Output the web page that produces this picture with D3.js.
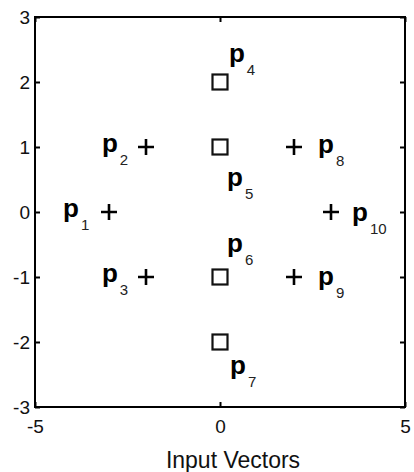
<!DOCTYPE html>
<html>
<head>
<meta charset="utf-8">
<script src="https://cdn.jsdelivr.net/npm/d3@7"></script>
<style>
  html, body { margin: 0; padding: 0; background: #fff; }
  svg { display: block; font-family: "Liberation Sans", Arial, Helvetica, sans-serif; }
</style>
</head>
<body>
<svg id="chart" width="414" height="472"></svg>
<script>
// Input vectors: two classes (plus markers and square markers)
const plusX = [-3, -2, -2, 2, 2, 3];
const plusY = [0, 1, -1, 1, -1, 0];
const plusNames = ["1", "2", "3", "8", "9", "10"];

const squareX = [0, 0, 0, 0];
const squareY = [2, 1, -1, -2];
const squareNames = ["4", "5", "6", "7"];

// Text label anchors (data units) for p_1 ... p_10
const labelNames = ["1", "2", "3", "4", "5", "6", "7", "8", "9", "10"];
const labelX = [-4.24, -3.19, -3.19, 0.24, 0.19, 0.19, 0.27, 2.65, 2.65, 3.57];
const labelY = [-0.08, 0.92, -1.08, 2.31, 0.40, -0.62, -2.49, 0.91, -1.13, -0.14];

const xTicks = [-5, 0, 5];
const yTicks = [-3, -2, -1, 0, 1, 2, 3];
const xLabel = "Input Vectors";

const svg = d3.select("#chart");
const mLeft = 35, mRight = 405, mTop = 17, mBottom = 407;

const x = d3.scaleLinear().domain([-5, 5]).range([mLeft, mRight]);
const y = d3.scaleLinear().domain([-3, 3]).range([mBottom, mTop]);

const tickLen = 5;
const fmt = d => String(d);   // plain hyphen-minus for negatives

// Axes with inward ticks on all four sides
const axB = svg.append("g").attr("transform", `translate(0,${mBottom})`)
  .call(d3.axisBottom(x).tickValues(xTicks).tickSize(-tickLen).tickPadding(13).tickFormat(fmt));
const axT = svg.append("g").attr("transform", `translate(0,${mTop})`)
  .call(d3.axisTop(x).tickValues(xTicks).tickSize(-tickLen).tickFormat(""));
const axL = svg.append("g").attr("transform", `translate(${mLeft},0)`)
  .call(d3.axisLeft(y).tickValues(yTicks).tickSize(-tickLen).tickPadding(5).tickFormat(fmt));
const axR = svg.append("g").attr("transform", `translate(${mRight},0)`)
  .call(d3.axisRight(y).tickValues(yTicks).tickSize(-tickLen).tickFormat(""));

[axB, axT, axL, axR].forEach(g => {
  g.select(".domain").remove();
  g.selectAll(".tick line").attr("stroke", "#000").attr("stroke-width", 2);
  g.selectAll(".tick text").attr("fill", "#111").attr("font-size", 19)
    .attr("font-family", "Liberation Sans, Arial, sans-serif");
});
axB.selectAll(".tick text").attr("dy", "0.71em");
axL.selectAll(".tick text").attr("dy", "0.36em");

// Box
svg.append("rect")
  .attr("x", mLeft).attr("y", mTop)
  .attr("width", mRight - mLeft).attr("height", mBottom - mTop)
  .attr("fill", "none").attr("stroke", "#000").attr("stroke-width", 2);

// Plus markers
const ps = 8;
svg.append("g").selectAll("path").data(plusX.map((d, i) => [d, plusY[i]])).join("path")
  .attr("transform", d => `translate(${x(d[0])},${y(d[1])})`)
  .attr("d", `M${-ps},0H${ps}M0,${-ps}V${ps}`)
  .attr("stroke", "#000").attr("stroke-width", 2.6).attr("fill", "none");

// Square markers
const ss = 7.5;
svg.append("g").selectAll("rect").data(squareX.map((d, i) => [d, squareY[i]])).join("rect")
  .attr("x", d => x(d[0]) - ss).attr("y", d => y(d[1]) - ss)
  .attr("width", 2 * ss).attr("height", 2 * ss)
  .attr("fill", "none").attr("stroke", "#111").attr("stroke-width", 2.2);

// Labels p_i
const lab = svg.append("g").selectAll("text").data(labelNames.map((n, i) => ({ n, lx: labelX[i], ly: labelY[i] })))
  .join("text")
  .attr("x", d => x(d.lx)).attr("y", d => y(d.ly))
  .attr("fill", "#000");
lab.append("tspan").attr("font-weight", "bold").attr("font-size", 26).text("p");
lab.append("tspan").attr("font-size", 15).attr("dx", 2).attr("dy", 13).attr("fill", "#222").text(d => d.n);

// x-axis label
svg.append("text")
  .attr("x", 233).attr("y", 468)
  .attr("text-anchor", "middle")
  .attr("font-size", 23).attr("fill", "#111")
  .text(xLabel);
</script>
</body>
</html>
